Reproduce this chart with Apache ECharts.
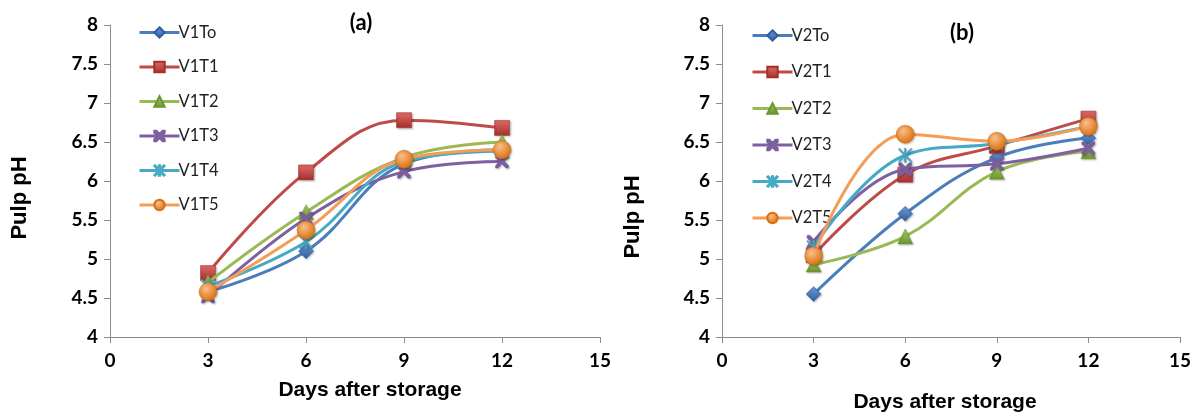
<!DOCTYPE html>
<html><head><meta charset="utf-8">
<script src="https://cdn.jsdelivr.net/npm/echarts@6/dist/echarts.min.js"></script>
<style>html,body{margin:0;padding:0;background:#fff}#c{width:1194px;height:412px}</style>
</head><body><div id="c"></div>
<script>
const days = [3, 6, 9, 12];
const namesA = ['V1To', 'V1T1', 'V1T2', 'V1T3', 'V1T4', 'V1T5'];
const namesB = ['V2To', 'V2T1', 'V2T2', 'V2T3', 'V2T4', 'V2T5'];
const v1To = [4.58, 5.10, 6.22, 6.40];
const v1T1 = [4.82, 6.11, 6.78, 6.68];
const v1T2 = [4.70, 5.60, 6.30, 6.50];
const v1T3 = [4.52, 5.52, 6.12, 6.25];
const v1T4 = [4.65, 5.22, 6.25, 6.38];
const v1T5 = [4.58, 5.37, 6.28, 6.40];
const v2To = [4.55, 5.58, 6.30, 6.55];
const v2T1 = [5.05, 6.08, 6.45, 6.80];
const v2T2 = [4.93, 5.29, 6.12, 6.38];
const v2T3 = [5.22, 6.15, 6.22, 6.42];
const v2T4 = [5.15, 6.33, 6.48, 6.70];
const v2T5 = [5.04, 6.60, 6.51, 6.70];
const dataA = [v1To, v1T1, v1T2, v1T3, v1T4, v1T5];
const dataB = [v2To, v2T1, v2T2, v2T3, v2T4, v2T5];
const xTitle = 'Days after storage';
const yTitle = 'Pulp pH';

const colors = ['#4A7EBB', '#BE4B48', '#98B954', '#7D60A0', '#46AAC5', '#F59D56'];
const markLight = ['#6E9CD8', '#E26B67', '#A9CC6A', '#9479B8', '#46AAC5', '#FBC08A'];
const markDark = ['#2F5E9E', '#A32F2B', '#6A9530', '#7D60A0', '#46AAC5', '#D9700F'];
const X_PATH = 'path://M0,0 L2,0 L5,3 L8,0 L10,0 L10,2 L7,5 L10,8 L10,10 L8,10 L5,7 L2,10 L0,10 L0,8 L3,5 L0,2 Z';
const STAR_PATH = 'path://M0,0.6 L0.9,0 L5,4.2 L9.1,0 L10,0.6 L5.8,5 L10,9.4 L9.1,10 L5,5.8 L0.9,10 L0,9.4 L4.2,5 Z M4.4,0 L5.6,0 L5.6,10 L4.4,10 Z';
const symbols = ['diamond', 'rect', 'triangle', X_PATH, STAR_PATH, 'circle'];
const sizes = [15, 15, 15, 13, 14, 18];

const FONT = 'Lato, "Open Sans", sans-serif';
const AFONT = '"Liberation Sans", Arial, sans-serif';

function fillFor(i) {
  if (i === 3 || i === 4) return markDark[i];
  if (i === 5) return new echarts.graphic.RadialGradient(0.38, 0.32, 0.7, [
    { offset: 0, color: markLight[i] }, { offset: 1, color: markDark[i] }]);
  return new echarts.graphic.LinearGradient(0, 0, 0, 1, [
    { offset: 0, color: markLight[i] }, { offset: 1, color: markDark[i] }]);
}

function mkSeries(names, data, idx) {
  return names.map((n, i) => ({
    name: n,
    type: 'line',
    xAxisIndex: idx, yAxisIndex: idx,
    smooth: 0.4,
    data: days.map((d, j) => [d, data[i][j]]),
    symbol: symbols[i],
    symbolSize: sizes[i],
    lineStyle: { color: colors[i], width: 3 },
    itemStyle: { color: fillFor(i), borderColor: markDark[i], borderWidth: 0.5,
                 shadowColor: 'rgba(0,0,0,0.25)', shadowBlur: 2, shadowOffsetX: 1, shadowOffsetY: 1 },
    emphasis: { disabled: true },
    z: 2 + i
  }));
}

function mkX(idx) {
  return {
    type: 'value', gridIndex: idx, min: 0, max: 15, interval: 3,
    axisLine: { lineStyle: { color: '#8C8C8C', width: 1 } },
    axisTick: { show: true, length: 6, lineStyle: { color: '#8C8C8C' } },
    axisLabel: { fontFamily: FONT, fontWeight: 'bold', fontSize: 19, color: '#000', margin: 14 },
    splitLine: { show: false }
  };
}
function mkY(idx) {
  return {
    type: 'value', gridIndex: idx, min: 4, max: 8, interval: 0.5,
    axisLine: { show: true, lineStyle: { color: '#8C8C8C', width: 1 } },
    axisTick: { show: true, length: 6, lineStyle: { color: '#8C8C8C' } },
    axisLabel: { fontFamily: FONT, fontWeight: 'bold', fontSize: 19, color: '#000', margin: 12 },
    splitLine: { show: false }
  };
}

function mkLegend(names, left, top, gap) {
  return {
    orient: 'vertical', left: left, top: top,
    data: names, itemWidth: 40, itemHeight: 13, itemGap: gap,
    lineStyle: { width: 3 },
    textStyle: { fontFamily: FONT, fontSize: 16.5, color: '#222', padding: [0, 0, 0, -6] },
    selectedMode: false
  };
}

function txt(text, x, y, font, size, rot) {
  return { type: 'text', x: x, y: y, rotation: rot || 0,
    style: { text: text, fontFamily: font, fontWeight: 'bold', fontSize: size, fill: '#000',
             align: 'center', verticalAlign: 'middle' } };
}

const chart = echarts.init(document.getElementById('c'), null, { renderer: 'canvas' });
chart.setOption({
  animation: false,
  backgroundColor: '#fff',
  grid: [
    { left: 110, top: 25, width: 490, height: 312 },
    { left: 722, top: 25, width: 459, height: 312 }
  ],
  xAxis: [mkX(0), mkX(1)],
  yAxis: [mkY(0), mkY(1)],
  legend: [mkLegend(namesA, 133, 19, 17.5), mkLegend(namesB, 746, 22, 19.5)],
  graphic: [
    txt('(a)', 361, 23, FONT, 22),
    txt('(b)', 962, 33, FONT, 22),
    txt(xTitle, 370, 390, AFONT, 21),
    txt(xTitle, 945, 402, AFONT, 21),
    txt(yTitle, 20, 198, AFONT, 22, Math.PI / 2),
    txt(yTitle, 633, 217, AFONT, 22, Math.PI / 2)
  ],
  series: mkSeries(namesA, dataA, 0).concat(mkSeries(namesB, dataB, 1))
});
</script></body></html>
